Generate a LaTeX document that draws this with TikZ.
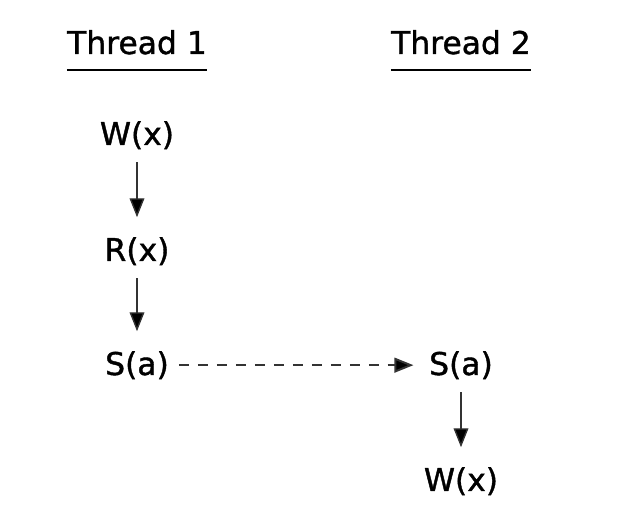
\documentclass[tikz,border=0pt]{standalone}
\usepackage{fontspec}
\setmainfont{DejaVu Sans}
\newfontfamily\eventfont{DejaVu Sans}[BoldFont={DejaVu Sans}, BoldFeatures={FakeBold=1.2}]
\usetikzlibrary{arrows.meta, positioning}
\definecolor{arrowgray}{HTML}{333333}

\begin{document}
\begin{tikzpicture}[x=0.025cm, y=-0.025cm,
  every node/.style={font=\eventfont\bfseries\fontsize{22.3}{25}\selectfont, inner sep=0pt},
  event/.style={anchor=base},
  order/.style={draw=arrowgray, line width=1pt, -{Triangle[length=13.5pt, width=10.5pt, fill=black]}},
  sync/.style={order, line width=1.4pt, dash pattern=on 7.5pt off 6pt}]

% Canvas
\useasboundingbox (0,0) rectangle (619,530);

% Thread headers
\node[event] (thread1) at (137,54) {Thread 1};
\node[event] (thread2) at (461,54) {Thread 2};
\draw[line width=1.5pt] ([yshift=-11.3pt]thread1.base west) -- ([yshift=-11.3pt]thread1.base east);
\draw[line width=1.5pt] ([yshift=-11.3pt]thread2.base west) -- ([yshift=-11.3pt]thread2.base east);

% Thread 1 events
\node[event] (wx1) at (137,145) {W(x)};
\node[event] (rx1) at (137,261) {R(x)};
\node[event] (sa1) at (137,375) {S(a)};

% Thread 2 events
\node[event] (sa2) at (461,375) {S(a)};
\node[event] (wx2) at (461,491) {W(x)};

% Program order
\draw[order, shorten <=9pt, shorten >=14pt] (wx1) -- (rx1);
\draw[order, shorten <=9pt, shorten >=14pt] (rx1) -- (sa1);
\draw[order, shorten <=9pt, shorten >=14pt] (sa2) -- (wx2);

% Synchronization
\draw[sync, shorten <=7pt, shorten >=11pt] (sa1) -- (sa2);

\end{tikzpicture}
\end{document}
